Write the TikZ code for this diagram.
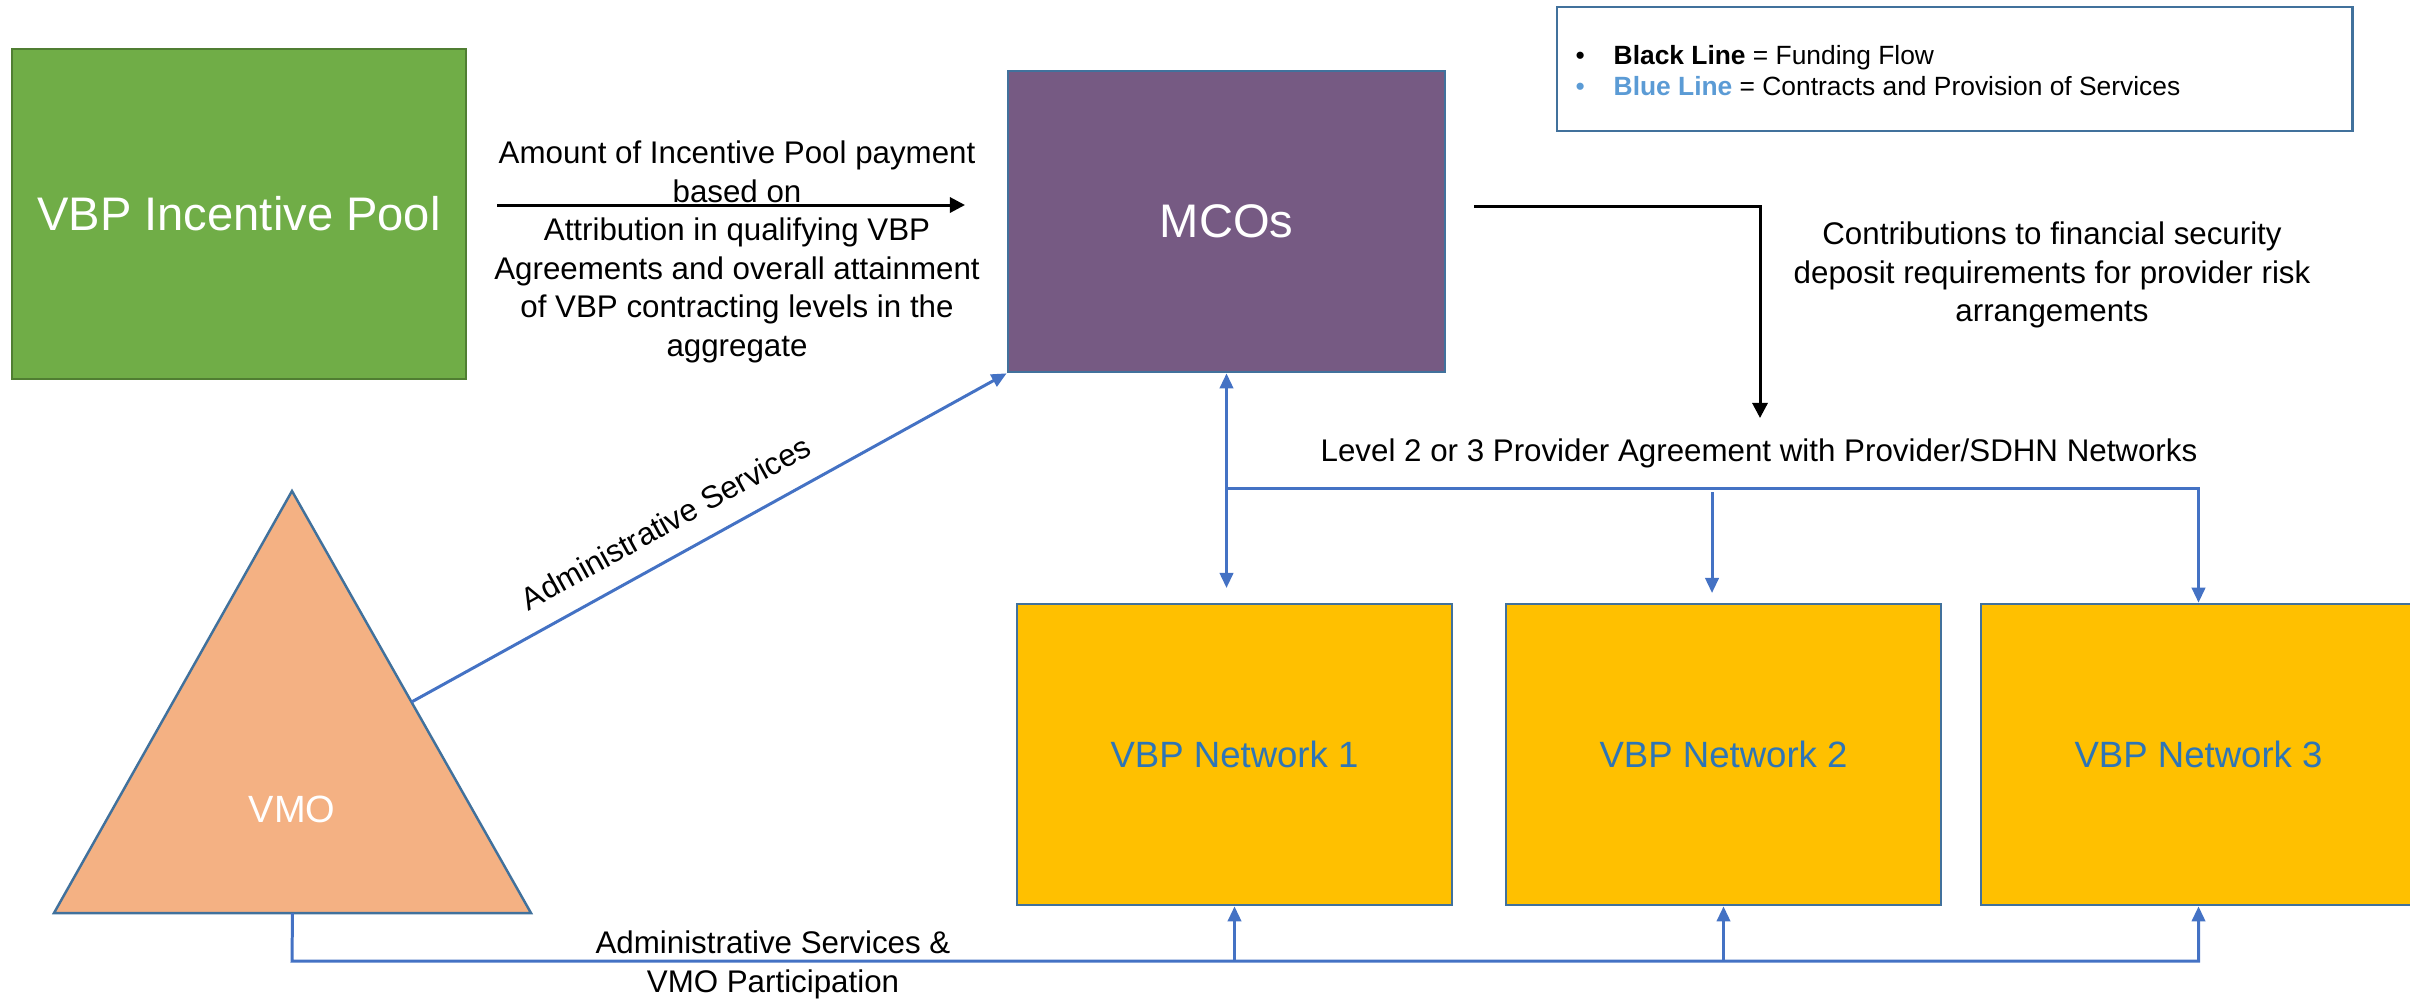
\documentclass[tikz,border=0pt]{standalone}
\usepackage{fontspec}
\setmainfont{Liberation Sans}
\usetikzlibrary{arrows.meta,calc}
\definecolor{poolgreen}{HTML}{70AD47}
\definecolor{poolborder}{HTML}{507E32}
\definecolor{mcopurple}{HTML}{765A83}
\definecolor{edgeblue}{HTML}{41719C}
\definecolor{lineblue}{HTML}{4472C4}
\definecolor{netyellow}{HTML}{FFC000}
\definecolor{nettext}{HTML}{2E75B6}
\definecolor{vmosalmon}{HTML}{F4B183}
\definecolor{legblue}{HTML}{5B9BD5}
\begin{document}
\begin{tikzpicture}[x=0.01cm,y=-0.01cm,
  bigbox/.style={draw=edgeblue, line width=0.7pt, minimum height=3.01cm, inner sep=0pt},
  netbox/.style={bigbox, fill=netyellow, minimum width=4.35cm, text=nettext, font=\fontsize{10.4}{12}\selectfont},
  lbl/.style={align=center, font=\fontsize{8.9}{10.95}\selectfont, inner sep=0pt},
  blueline/.style={draw=lineblue, line width=0.85pt},
  bluearrow/.style={blueline, -{Triangle[length=4.3pt,width=3.8pt]}},
  bluetwo/.style={blueline, {Triangle[length=4.3pt,width=3.8pt]}-{Triangle[length=4.3pt,width=3.8pt]}},
  fund/.style={draw=black, line width=0.85pt, -{Triangle[length=4.3pt,width=4.3pt]}}
]
\useasboundingbox (0,0) rectangle (2410,999);

% boxes
\node[bigbox, fill=poolgreen, draw=poolborder, minimum width=4.54cm, minimum height=3.30cm,
      text=white, font=\fontsize{13.4}{16}\selectfont] (pool) at (239,214) {VBP Incentive Pool};
\node[bigbox, fill=mcopurple, minimum width=4.37cm, text=white,
      font=\fontsize{13.4}{16}\selectfont] (mco) at (1226.5,221.5) {MCOs};
\node[netbox] (net1) at (1234.5,754.5) {VBP Network 1};
\node[netbox] (net2) at (1723.5,754.5) {VBP Network 2};
\node[netbox] (net3) at (2198.5,754.5) {VBP Network 3};

% triangle VMO
\coordinate (apex) at (292,491);
\coordinate (tl) at (54,913);
\coordinate (tr) at (531,913);
\draw[draw=edgeblue, line width=0.7pt, fill=vmosalmon] (apex) -- (tr) -- (tl) -- cycle;
\node[text=white, font=\fontsize{10.8}{13}\selectfont] (vmo) at (292,809) {VMO};

% legend
\node[draw=edgeblue, line width=0.7pt, minimum width=7.95cm, minimum height=1.24cm] (legend) at (1954.5,69) {};
\node[anchor=west, align=left, font=\fontsize{7.5}{8.8}\selectfont, inner sep=0pt] (legtext) at (1575,70.5)
  {\makebox[10.8pt][l]{\textbullet}\textbf{Black Line} = Funding Flow\\
   \makebox[10.8pt][l]{\textcolor{legblue}{\textbullet}}\textcolor{legblue}{\textbf{Blue Line}} = Contracts and Provision of Services};

% funding flows
\coordinate (i0) at (497,205);
\coordinate (i1) at (965,205);
\draw[fund] (i0) -- (i1);
\node[lbl] (inctext) at (737,252) {Amount of Incentive Pool payment\\based on\\Attribution in qualifying VBP\\Agreements and overall attainment\\of VBP contracting levels in the\\aggregate};

\coordinate (f0) at (1474,206);
\coordinate (f1) at (1760,418);
\draw[fund] (f0) -| (f1);
\node[lbl] (contrib) at (2052,275) {Contributions to financial security\\deposit requirements for provider risk\\arrangements};

% MCO to networks
\node[lbl] (level) at (1759,453) {Level 2 or 3 Provider Agreement with Provider/SDHN Networks};
\coordinate (n1in) at (1226.5,588);
\coordinate (j1) at (1226.5,488);
\draw[bluetwo] (mco.south) -- (n1in);
\draw[bluearrow] (j1) -| (net3.north);
\coordinate (m0) at (1712,492);
\coordinate (m1) at (1712,593);
\draw[bluearrow] (m0) -- (m1);

% VMO admin services
\draw[bluearrow] ($(apex)!0.5!(tr)$) -- node[lbl, sloped, above=6pt, pos=0.455] (admtext) {Administrative Services} (mco.south west);

% bottom line
\coordinate (vb) at ($(tl)!0.5!(tr)$);
\coordinate (b0) at (292,961);
\draw[bluearrow] (vb) -- (b0) -| (net3.south);
\draw[bluearrow] (net1.south |- b0) -- (net1.south);
\draw[bluearrow] (net2.south |- b0) -- (net2.south);
\node[lbl] (bottext) at (773,965) {Administrative Services \&\\VMO Participation};
\end{tikzpicture}
\end{document}
